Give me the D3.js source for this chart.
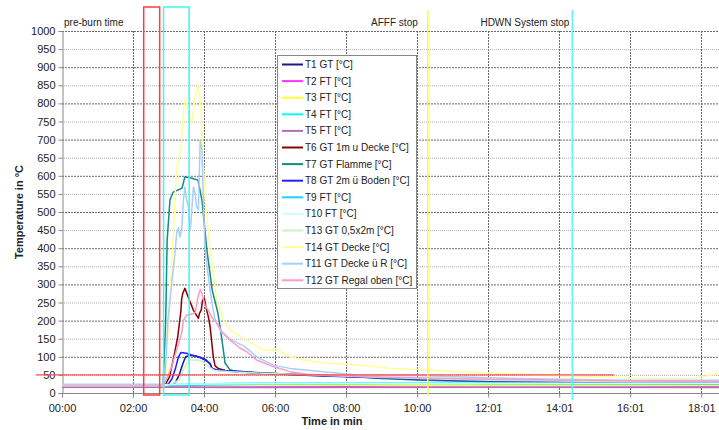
<!DOCTYPE html>
<html>
<head>
<meta charset="utf-8">
<script src="https://cdn.jsdelivr.net/npm/d3@7/dist/d3.min.js"></script>
<style>
  html, body { margin: 0; padding: 0; background: #fff; }
  svg { display: block; font-family: "Liberation Sans", Arial, sans-serif; }
</style>
</head>
<body>
<svg id="chart" width="719" height="430"></svg>
<script>
// Temperature readings per sensor: [time in min, °C]
const T1 = [[0,18],[2.85,18],[3.05,20],[3.2,30],[3.3,50],[3.4,80],[3.48,100],[3.6,104],[3.75,102],[3.9,98],[4.05,92],[4.17,80],[4.24,66],[4.4,62],[5,58],[6,53],[7,49],[8,46],[9,42],[10,37],[12,33],[14,31],[16,29],[18.5,29]];
const T2 = [[0,17],[2.85,17],[4,16],[8,17],[12,16],[18.5,17]];
const T3 = [[0,21],[2.85,21],[5,22],[10,21],[18.5,21]];
const T4 = [[0,22],[2.85,22],[3.5,24],[5,27],[8,28],[12,28],[18.5,27]];
const T5 = [[0,16],[2.85,16],[6,15],[12,16],[18.5,15]];
const T6 = [[0,20],[2.85,20],[2.9,22],[3.03,45],[3.17,110],[3.26,156],[3.35,229],[3.37,260],[3.40,275],[3.46,289],[3.55,266],[3.70,229],[3.84,206],[3.87,220],[3.92,229],[3.96,257],[4.01,262],[4.05,238],[4.12,211],[4.17,183],[4.22,137],[4.26,100],[4.31,75],[4.4,68],[4.6,62],[5,58],[6,54],[7,50],[8,46],[9,42],[10,38],[12,34],[14,32],[16,30],[18.5,30]];
const T7 = [[0,20],[2.8,20],[2.85,27],[2.92,200],[2.96,420],[3.0,478],[3.04,533],[3.13,555],[3.25,560],[3.38,566],[3.46,597],[3.6,595],[3.7,592],[3.83,588],[3.94,533],[4.08,395],[4.23,284],[4.39,221],[4.5,150],[4.59,83],[4.73,64],[5.0,57],[6,54],[7,50],[8,46],[9,40],[10,36],[11,33],[12,31],[14,29],[16,28],[18.5,28]];
const T8 = [[0,21],[2.85,21],[3.0,25],[3.1,40],[3.2,70],[3.28,100],[3.35,112],[3.5,110],[3.65,105],[3.84,100],[4.03,91],[4.17,82],[4.22,68],[4.36,64],[4.6,62],[5.0,60],[5.6,55],[6.2,52],[7,48],[8,45],[9,42],[10,38],[12,34],[14,32],[16,30],[18.5,30]];
const T9 = [[0,20],[2.85,20],[4,22],[6,25],[10,26],[18.5,25]];
const T10 = [[0,23],[2.85,23],[4,25],[8,27],[18.5,27]];
const T13 = [[0,19],[2.85,19],[3.1,25],[3.3,36],[3.42,64],[3.51,82],[3.61,91],[3.8,91],[3.94,88],[4.03,82],[4.17,70],[4.3,62],[4.73,59],[5.5,55],[6.5,52],[7.5,48],[8.5,45],[10,40],[12,35],[14,33],[16,31],[18.5,31]];
const T14 = [[0,22],[2.85,22],[2.92,40],[2.99,166],[3.09,349],[3.18,533],[3.23,625],[3.28,635],[3.37,699],[3.42,782],[3.46,814],[3.53,782],[3.61,754],[3.65,745],[3.75,818],[3.84,851],[3.89,810],[3.94,718],[4.03,533],[4.17,395],[4.36,257],[4.54,202],[4.73,174],[5.2,146],[5.67,119],[6.05,119],[6.42,100],[6.8,91],[7.55,82],[8.3,78],[9.24,68],[10.18,64],[11.12,59],[12.06,55],[13.0,52],[13.55,50],[14.5,46],[15.44,44],[16.37,41],[17.77,40],[18.2,48],[18.5,55]];
const T11 = [[0,24],[2.85,24],[2.9,45],[2.99,210],[3.09,303],[3.18,386],[3.23,442],[3.28,456],[3.32,431],[3.37,450],[3.42,533],[3.46,569],[3.51,533],[3.56,514],[3.61,450],[3.65,497],[3.70,569],[3.75,552],[3.79,514],[3.84,506],[3.89,699],[3.94,671],[3.98,533],[4.03,395],[4.12,321],[4.21,257],[4.31,202],[4.5,166],[4.78,146],[5.15,128],[5.48,100],[5.95,77],[6.42,68],[7.36,59],[8.3,50],[10,48],[12,42],[14,38],[16,35],[18.5,35]];
const T12 = [[0,19],[2.85,19],[2.95,40],[3.09,73],[3.23,120],[3.37,166],[3.42,200],[3.51,215],[3.65,218],[3.75,222],[3.84,270],[3.89,285],[3.94,275],[4.03,240],[4.12,229],[4.21,210],[4.36,193],[4.5,170],[4.73,146],[5.0,125],[5.2,114],[5.48,91],[5.95,73],[6.42,59],[6.9,52],[7.36,50],[8.3,46],[9,44],[10,42],[11,40],[12,38],[14,36],[16,33],[18.5,32]];

const seriesNames = ["T1 GT [°C]","T2 FT [°C]","T3 FT [°C]","T4 FT [°C]","T5 FT [°C]","T6 GT 1m u Decke [°C]","T7 GT Flamme [°C]","T8 GT 2m ü Boden [°C]","T9 FT [°C]","T10 FT [°C]","T13 GT 0,5x2m [°C]","T14 GT Decke [°C]","T11 GT Decke ü R [°C]","T12 GT Regal oben [°C]"];
const seriesData = [T1,T2,T3,T4,T5,T6,T7,T8,T9,T10,T13,T14,T11,T12];
const seriesColors = ["#1a1a8c","#ff33ff","#ffff33","#00ffff","#b070b0","#8b0000","#138a85","#1f1fff","#1ad0ff","#ccffff","#c8f5c0","#ffff99","#a9cff8","#ff99c8"];

const yTicks = d3.range(0, 1001, 50);
const xTickValues = [0,2,4,6,8,10,12,14,16,18];
const xTickLabels = ["00:00","02:00","04:00","06:00","08:00","10:00","12:01","14:01","16:01","18:01"];

// Event markers (minutes) and reference level (°C)
const preBurnWindow = [2.30, 2.75];
const ignitionWindow = [2.86, 3.58];
const afffStop = 10.30;
const hdwnStop = 14.37;
const refLevel = 50;
const refLevelEnd = 15.55;

const svg = d3.select("#chart");
const plotLeft = 62, plotRight = 719, plotTop = 31, plotBottom = 393;

const x = d3.scaleLinear().domain([0, 18.5]).range([plotLeft, plotRight]);
const y = d3.scaleLinear().domain([0, 1000]).range([plotBottom, plotTop]);

// Grid
const grid = svg.append("g");
grid.selectAll("line.h").data(yTicks.filter(d => d > 0)).join("line")
  .attr("x1", plotLeft).attr("x2", plotRight)
  .attr("y1", d => y(d) + 0.5).attr("y2", d => y(d) + 0.5)
  .attr("stroke", d => d % 100 === 0 ? "#6a6a6a" : "#b0b0b0")
  .attr("stroke-dasharray", d => d % 100 === 0 ? "2,1" : "1,1")
  .attr("stroke-width", 1);
grid.selectAll("line.v").data(xTickValues.filter(d => d > 0)).join("line")
  .attr("x1", d => Math.round(x(d)) + 0.5).attr("x2", d => Math.round(x(d)) + 0.5)
  .attr("y1", plotTop).attr("y2", plotBottom)
  .attr("stroke", "#6a6a6a").attr("stroke-dasharray", "2,1");

// Axes
const yAxis = svg.append("g").attr("transform", `translate(${plotLeft + 0.5},0)`)
  .call(d3.axisLeft(y).tickValues(yTicks).tickSize(4).tickPadding(3).tickFormat(d3.format("d")));
const xAxis = svg.append("g").attr("transform", `translate(0,${plotBottom + 0.5})`)
  .call(d3.axisBottom(x).tickValues(xTickValues).tickSize(4).tickPadding(7).tickFormat((d, i) => xTickLabels[i]));
[yAxis, xAxis].forEach(a => {
  a.select(".domain").attr("stroke", "#888");
  a.selectAll(".tick line").attr("stroke", "#888");
  a.selectAll(".tick text").attr("fill", "#222").style("font-size", "11px")
    .style("font-family", "'Liberation Sans', Arial, sans-serif");
});
xAxis.select(".domain").attr("d", `M${plotLeft},0H${plotRight}`);

// Axis titles
svg.append("text").attr("transform", `translate(23,${(plotTop + plotBottom) / 2}) rotate(-90)`)
  .attr("text-anchor", "middle").attr("font-size", 11).attr("font-weight", "bold").attr("fill", "#222")
  .text("Temperature in °C");
svg.append("text").attr("x", 332).attr("y", 425).attr("text-anchor", "middle")
  .attr("font-size", 11).attr("font-weight", "bold").attr("fill", "#222").text("Time in min");

// Series
const line = d3.line().x(d => x(d[0])).y(d => y(d[1]));
svg.append("g").selectAll("path").data(seriesData).join("path")
  .attr("d", line).attr("fill", "none")
  .attr("stroke", (d, i) => seriesColors[i]).attr("stroke-width", 1.5)
  .attr("stroke-linejoin", "round");

// Event markers
const marks = svg.append("g").attr("fill", "none");
marks.append("rect").attr("x", x(preBurnWindow[0])).attr("y", 7)
  .attr("width", x(preBurnWindow[1]) - x(preBurnWindow[0])).attr("height", 388)
  .attr("stroke", "#ff3b3b").attr("stroke-width", 1.5);
marks.append("rect").attr("x", x(ignitionWindow[0])).attr("y", 7)
  .attr("width", x(ignitionWindow[1]) - x(ignitionWindow[0])).attr("height", 388)
  .attr("stroke", "#3ff5f5").attr("stroke-width", 1.5);
marks.append("line").attr("x1", plotLeft - 26).attr("x2", x(refLevelEnd))
  .attr("y1", y(refLevel)).attr("y2", y(refLevel))
  .attr("stroke", "#ff4a4a").attr("stroke-width", 1.2);
marks.append("line").attr("x1", x(afffStop)).attr("x2", x(afffStop)).attr("y1", 10).attr("y2", 396)
  .attr("stroke", "#ffff22").attr("stroke-width", 1.5);
marks.append("line").attr("x1", x(hdwnStop)).attr("x2", x(hdwnStop)).attr("y1", 10).attr("y2", 400)
  .attr("stroke", "#5ff5f5").attr("stroke-width", 1.5);

const notes = svg.append("g").attr("font-size", 10).attr("fill", "#222");
notes.append("text").attr("x", plotLeft + 2).attr("y", 26).text("pre-burn time");
notes.append("text").attr("x", x(afffStop) - 10).attr("y", 26).attr("text-anchor", "end").text("AFFF stop");
notes.append("text").attr("x", x(hdwnStop) - 3).attr("y", 26).attr("text-anchor", "end").text("HDWN System stop");

// Legend
const lg = svg.append("g").attr("transform", "translate(277,55)");
lg.append("rect").attr("x", 0.5).attr("y", 0.5).attr("width", 139).attr("height", 233)
  .attr("fill", "#fff").attr("stroke", "#888");
const items = lg.selectAll("g.item").data(seriesNames).join("g")
  .attr("transform", (d, i) => `translate(0,${9.5 + i * 16.6})`);
items.append("line").attr("x1", 5).attr("x2", 26).attr("y1", 0).attr("y2", 0)
  .attr("stroke", (d, i) => seriesColors[i]).attr("stroke-width", 2);
items.append("text").attr("x", 28).attr("y", 3.5).attr("font-size", 10).attr("fill", "#222").text(d => d);
</script>
</body>
</html>
